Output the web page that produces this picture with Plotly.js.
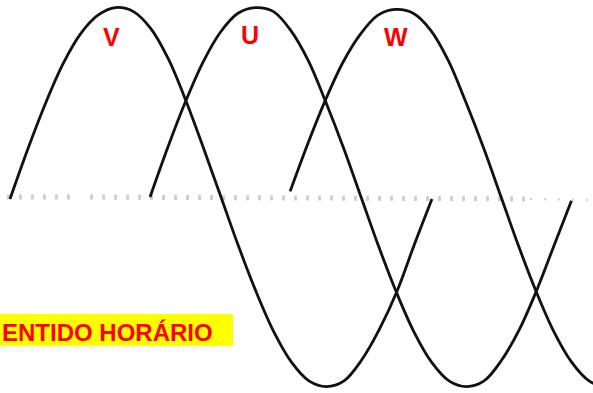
<!DOCTYPE html>
<html>
<head>
<meta charset="utf-8">
<script src="https://cdn.plot.ly/plotly-3.0.1.min.js"></script>
<style>
  html, body { margin: 0; padding: 0; background: #ffffff; }
  #grafico { width: 593px; height: 393px; }
</style>
</head>
<body>
<div id="grafico"></div>
<script>
// ---------------------------------------------------------------------
// DATOS: angulo en grados, tension normalizada
// ---------------------------------------------------------------------
const xV = [0, 15, 30, 45, 60, 75, 90, 105, 120, 135, 150, 165, 180,
            195, 210, 225, 240, 255, 270, 285, 300, 315, 330, 345, 360];
const yV = [-0.01, 0.25, 0.49, 0.7, 0.86, 0.96, 1.0, 0.98, 0.89, 0.73, 0.51, 0.26, 0.0,
            -0.26, -0.5, -0.71, -0.87, -0.97, -1.0, -0.97, -0.86, -0.7, -0.5, -0.25, -0.01];

const xU = [119.5, 134.5, 149.5, 164.5, 179.5, 194.5, 209.5, 224.5, 239.5, 254.5, 269.5, 284.5, 299.5,
            314.5, 329.5, 344.5, 359.5, 374.5, 389.5, 404.5, 419.5, 434.5, 449.5, 464.5, 479];
const yU = [0.0, 0.26, 0.5, 0.71, 0.87, 0.97, 1.0, 0.98, 0.88, 0.72, 0.5, 0.26, 0.0,
            -0.26, -0.5, -0.71, -0.87, -0.97, -1.0, -0.97, -0.86, -0.7, -0.49, -0.25, -0.02];

const xW = [239, 254, 269, 284, 299, 314, 329, 344, 359, 374, 389, 404, 419,
            434, 449, 464, 479, 494, 509, 524, 539];
const yW = [0.03, 0.28, 0.51, 0.71, 0.86, 0.96, 0.99, 0.97, 0.88, 0.72, 0.5, 0.26, 0.0,
            -0.26, -0.5, -0.71, -0.87, -0.97, -1.0, -0.97, -0.86];

// Eje horizontal punteado (tres tramos: con hueco y con puntos finos al final)
const ejeTramo1X = [-2.6, 53];
const ejeTramo1Y = [0.0, 0.0];
const ejeTramo2X = [68.3, 443.7];
const ejeTramo2Y = [0.0, -0.01];
const ejeTramo3X = [443.7, 498];
const ejeTramo3Y = [-0.01, -0.016];

const etiquetasFases = ["V", "U", "W"];
const etiquetasX = [86.2, 204.8, 329.4];
const etiquetasY = [0.847, 0.857, 0.844];

const textoSentido = "ENTIDO HORÁRIO";

// ---------------------------------------------------------------------
// TRAZAS
// ---------------------------------------------------------------------
function trazaOnda(x, y) {
  return {
    x: x,
    y: y,
    type: "scatter",
    mode: "lines",
    line: { color: "#111111", width: 2.8, shape: "spline", smoothing: 1 },
    hoverinfo: "skip",
  };
}

function trazaEje(x, y, ancho, guion) {
  return {
    x: x,
    y: y,
    type: "scatter",
    mode: "lines",
    line: { color: "#cfcfcf", width: ancho, dash: guion },
    hoverinfo: "skip",
  };
}

const trazas = [
  trazaEje(ejeTramo1X, ejeTramo1Y, 5, "3px,9px"),
  trazaEje(ejeTramo2X, ejeTramo2Y, 5, "3px,9px"),
  trazaEje(ejeTramo3X, ejeTramo3Y, 2, "2px,12px"),
  trazaOnda(xV, yV),
  trazaOnda(xU, yU),
  trazaOnda(xW, yW),
];

const anotaciones = etiquetasFases.map((t, i) => ({
  x: etiquetasX[i],
  y: etiquetasY[i],
  xref: "x",
  yref: "y",
  text: `<b>${t}</b>`,
  showarrow: false,
  font: { family: "Liberation Sans, Arial, sans-serif", size: 25, color: "#ff0000" },
}));

anotaciones.push({
  x: 0,
  y: 0.154,
  xref: "paper",
  yref: "paper",
  xanchor: "left",
  yanchor: "middle",
  text: `<b>${textoSentido}</b>`,
  showarrow: false,
  font: { family: "Liberation Sans, Arial, sans-serif", size: 24, color: "#ff0000" },
});

const layout = {
  width: 593,
  height: 393,
  margin: { l: 0, r: 0, t: 0, b: 0 },
  paper_bgcolor: "#ffffff",
  plot_bgcolor: "#ffffff",
  showlegend: false,
  xaxis: { range: [-8.53, 497.4], visible: false, fixedrange: true },
  yaxis: { range: [-1.034, 1.04], visible: false, fixedrange: true },
  shapes: [
    {
      type: "rect",
      xref: "paper",
      yref: "paper",
      x0: 0,
      x1: 0.393,
      y0: 0.1196,
      y1: 0.201,
      fillcolor: "#ffff00",
      line: { width: 0 },
      layer: "below",
    },
  ],
  annotations: anotaciones,
};

Plotly.newPlot("grafico", trazas, layout, { displayModeBar: false, staticPlot: true });
</script>
</body>
</html>
